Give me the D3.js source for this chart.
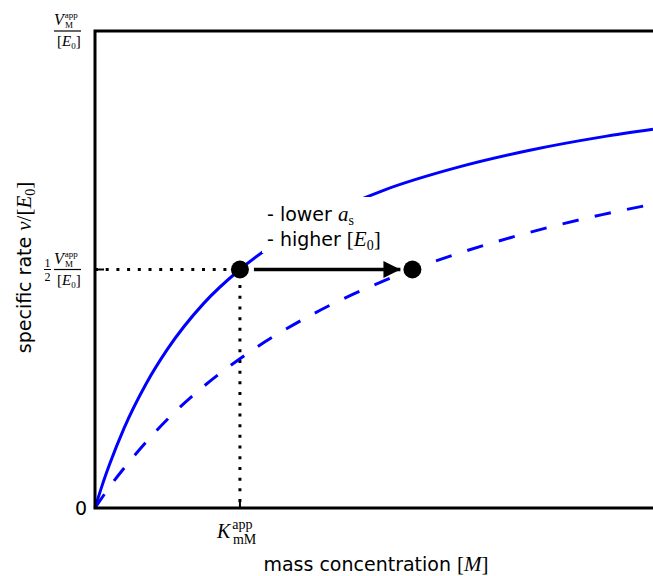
<!DOCTYPE html>
<html>
<head>
<meta charset="utf-8">
<script src="https://cdn.jsdelivr.net/npm/d3@7"></script>
<style>
  body { margin: 0; background: #fff; }
  svg { display: block; }
  .sans { font-family: "DejaVu Sans", sans-serif; }
  .math { font-family: "Liberation Serif", "DejaVu Serif", serif; }
</style>
</head>
<body>
<svg id="chart" width="653" height="576"></svg>
<script>
// data units: x in multiples of K_mM^app, y in multiples of V_M^app/[E0]
const xMax = 3.85
const kmApp = 1
const kmShifted = 2.19

// solid curve (reference conditions)
const solidX = [0, 0.05, 0.1, 0.2, 0.35, 0.5, 0.75, 1, 1.25, 1.5, 2, 2.5, 3, 3.5, 3.85]
const solidY = [0, 0.048, 0.091, 0.167, 0.259, 0.333, 0.429, 0.5, 0.556, 0.6, 0.667, 0.714, 0.75, 0.778, 0.794]

// dashed curve (lower a_s / higher [E0])
const dashX = [0, 0.1, 0.25, 0.5, 0.75, 1, 1.5, 2, 2.19, 2.5, 3, 3.5, 3.85]
const dashY = [0, 0.044, 0.102, 0.186, 0.255, 0.313, 0.406, 0.477, 0.5, 0.533, 0.578, 0.615, 0.637]

const size = { width: 653, height: 576 }
const margin = { left: 95, right: 0, top: 31, bottom: 68 }

const svg = d3.select('#chart')

const x = d3.scaleLinear().domain([0, xMax]).range([margin.left, size.width - margin.right])
const y = d3.scaleLinear().domain([0, 1]).range([size.height - margin.bottom, margin.top])

const blue = '#0000ff'

const line = d3.line()
    .x(d => x(d[0]))
    .y(d => y(d[1]))
    .curve(d3.curveMonotoneX)

// dotted guide lines
svg.append('path')
    .attr('d', `M${x(0)},${y(0.5)} H${x(kmApp)} V${y(0)}`)
    .attr('fill', 'none')
    .attr('stroke', '#000')
    .attr('stroke-width', 3)
    .attr('stroke-dasharray', '3,7.7')

svg.append('path')
    .datum(solidX.map((v, i) => [v, solidY[i]]))
    .attr('d', line)
    .attr('fill', 'none')
    .attr('stroke', blue)
    .attr('stroke-width', 3)

svg.append('path')
    .datum(dashX.map((v, i) => [v, dashY[i]]))
    .attr('d', line)
    .attr('fill', 'none')
    .attr('stroke', blue)
    .attr('stroke-width', 3)
    .attr('stroke-dasharray', '16.5,16.5')

// spines
svg.append('path')
    .attr('d', `M${x(0)},${y(0)} V${y(1)} H${x(xMax) + 5} M${x(0)},${y(0)} H${x(xMax) + 5}`)
    .attr('fill', 'none')
    .attr('stroke', '#000')
    .attr('stroke-width', 3)
    .attr('stroke-linecap', 'square')

// inward ticks
svg.append('line')
    .attr('x1', x(0)).attr('x2', x(0) + 9)
    .attr('y1', y(0.5)).attr('y2', y(0.5))
    .attr('stroke', '#000').attr('stroke-width', 2)
svg.append('line')
    .attr('x1', x(kmApp)).attr('x2', x(kmApp))
    .attr('y1', y(0)).attr('y2', y(0) - 9)
    .attr('stroke', '#000').attr('stroke-width', 2)

// arrow between the two half-saturation points
svg.append('defs').append('marker')
    .attr('id', 'head')
    .attr('viewBox', '0 0 10 10')
    .attr('refX', 10).attr('refY', 5)
    .attr('markerUnits', 'userSpaceOnUse')
    .attr('markerWidth', 17).attr('markerHeight', 17)
    .attr('orient', 'auto')
    .append('path')
    .attr('d', 'M0,0 L10,5 L0,10 Z')
    .attr('fill', '#000')

svg.append('line')
    .attr('x1', x(kmApp) + 14).attr('x2', x(kmShifted) - 12)
    .attr('y1', y(0.5)).attr('y2', y(0.5))
    .attr('stroke', '#000').attr('stroke-width', 3.5)
    .attr('marker-end', 'url(#head)')

svg.selectAll('circle.pt')
    .data([kmApp, kmShifted])
    .enter()
    .append('circle')
    .attr('class', 'pt')
    .attr('cx', d => x(d))
    .attr('cy', y(0.5))
    .attr('r', 9)
    .attr('fill', '#000')

// annotation, on a white box that hides the curve behind it
svg.append('rect')
    .attr('x', 262).attr('y', 197)
    .attr('width', 130).attr('height', 56)
    .attr('fill', '#fff')
const note = svg.append('text').attr('class', 'sans').attr('font-size', 19).attr('fill', '#000')
note.append('tspan').attr('x', 267).attr('y', 221).text('- lower ')
note.append('tspan').attr('class', 'math').attr('font-style', 'italic').attr('font-size', 21).text('a')
note.append('tspan').attr('class', 'math').attr('font-size', 14).attr('dy', 4).text('s')
const note2 = svg.append('text').attr('class', 'sans').attr('font-size', 19).attr('fill', '#000')
note2.append('tspan').attr('x', 267).attr('y', 246).text('- higher ')
note2.append('tspan').attr('class', 'math').attr('font-size', 21).text('[')
note2.append('tspan').attr('class', 'math').attr('font-style', 'italic').attr('font-size', 21).text('E')
note2.append('tspan').attr('class', 'math').attr('font-size', 14).attr('dy', 4).text('0')
note2.append('tspan').attr('class', 'math').attr('font-size', 21).attr('dy', -4).text(']')

// y tick labels
function vFraction(g, right, barY) {
    g.append('line')
        .attr('x1', right - 27).attr('x2', right)
        .attr('y1', barY).attr('y2', barY)
        .attr('stroke', '#000').attr('stroke-width', 1.2)
    const num = g.append('text').attr('class', 'math').attr('fill', '#000')
    num.append('tspan').attr('x', right - 27).attr('y', barY - 6)
        .attr('font-style', 'italic').attr('font-size', 16).text('V')
    num.append('tspan').attr('font-size', 9).attr('dx', 1).attr('dy', -7).text('app')
    num.append('tspan').attr('x', right - 16).attr('y', barY - 3)
        .attr('font-size', 9).text('M')
    const den = g.append('text').attr('class', 'math').attr('fill', '#000')
    den.append('tspan').attr('x', right - 24).attr('y', barY + 15).attr('font-size', 15).text('[')
    den.append('tspan').attr('font-style', 'italic').attr('font-size', 15).text('E')
    den.append('tspan').attr('font-size', 9).attr('dy', 3).text('0')
    den.append('tspan').attr('font-size', 15).attr('dy', -3).text(']')
}

vFraction(svg.append('g'), 81, y(1))

const half = svg.append('g')
half.append('line')
    .attr('x1', 44).attr('x2', 51)
    .attr('y1', y(0.5)).attr('y2', y(0.5))
    .attr('stroke', '#000').attr('stroke-width', 1)
half.append('text').attr('class', 'math').attr('font-size', 12)
    .attr('x', 47.5).attr('y', y(0.5) - 3).attr('text-anchor', 'middle').text('1')
half.append('text').attr('class', 'math').attr('font-size', 12)
    .attr('x', 47.5).attr('y', y(0.5) + 11).attr('text-anchor', 'middle').text('2')
vFraction(half, 81, y(0.5))

svg.append('text').attr('class', 'sans').attr('font-size', 19)
    .attr('x', 87).attr('y', y(0) + 7).attr('text-anchor', 'end').text('0')

// x tick label
const kLab = svg.append('text').attr('class', 'math').attr('fill', '#000')
kLab.append('tspan').attr('x', x(kmApp) - 23).attr('y', y(0) + 30)
    .attr('font-style', 'italic').attr('font-size', 20).text('K')
kLab.append('tspan').attr('font-size', 14).attr('dx', 2).attr('dy', -9).text('app')
kLab.append('tspan').attr('x', x(kmApp) - 7).attr('y', y(0) + 36).attr('font-size', 14).text('mM')

// axis labels
const xl = svg.append('text').attr('class', 'sans').attr('font-size', 19)
    .attr('x', 376).attr('y', 571).attr('text-anchor', 'middle')
xl.append('tspan').text('mass concentration ')
xl.append('tspan').attr('class', 'math').attr('font-size', 21).text('[')
xl.append('tspan').attr('class', 'math').attr('font-style', 'italic').attr('font-size', 21).text('M')
xl.append('tspan').attr('class', 'math').attr('font-size', 21).text(']')

const yl = svg.append('text').attr('class', 'sans').attr('font-size', 19)
    .attr('transform', `translate(31,${y(0.5) - 2}) rotate(-90)`)
    .attr('text-anchor', 'middle')
yl.append('tspan').text('specific rate ')
yl.append('tspan').attr('class', 'math').attr('font-style', 'italic').attr('font-size', 21).text('v')
yl.append('tspan').attr('class', 'math').attr('font-size', 21).text('/[')
yl.append('tspan').attr('class', 'math').attr('font-style', 'italic').attr('font-size', 21).text('E')
yl.append('tspan').attr('class', 'math').attr('font-size', 14).attr('dy', 4).text('0')
yl.append('tspan').attr('class', 'math').attr('font-size', 21).attr('dy', -4).text(']')
</script>
</body>
</html>
